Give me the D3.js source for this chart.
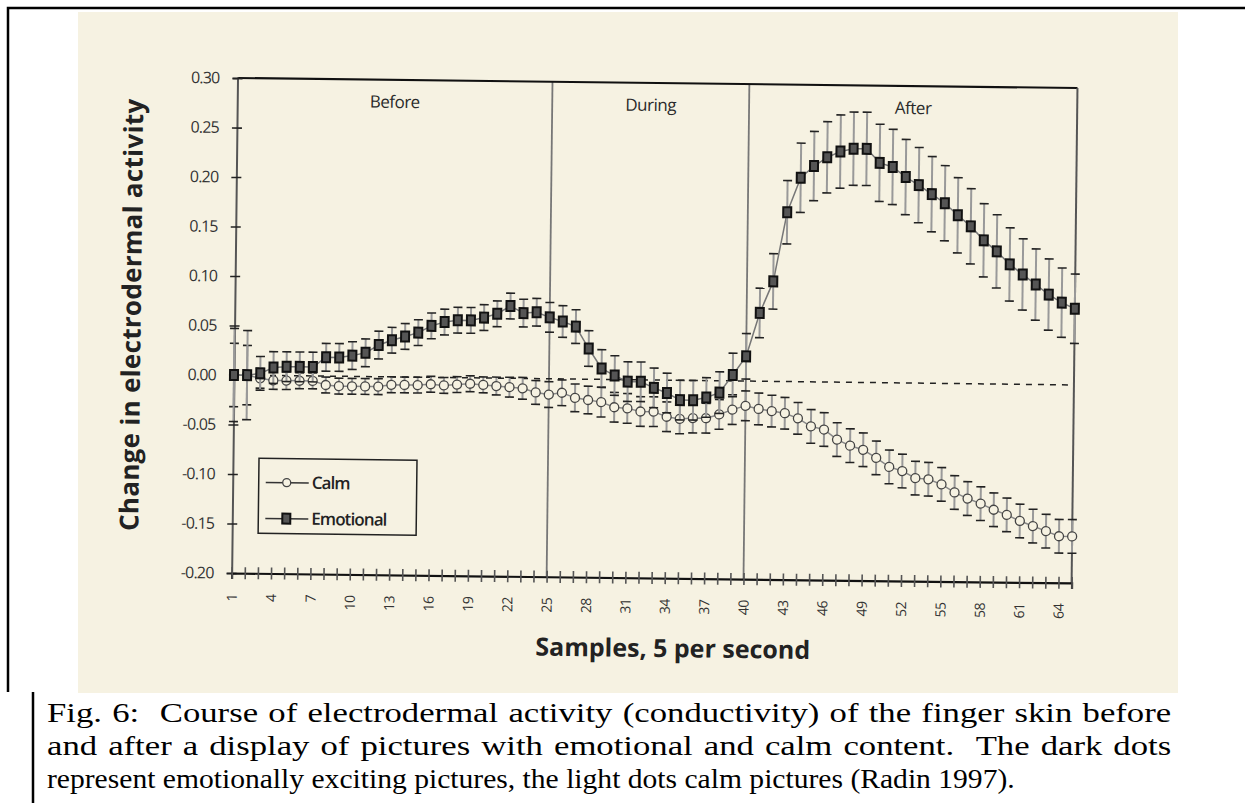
<!DOCTYPE html>
<html>
<head>
<meta charset="utf-8">
<script src="https://cdn.jsdelivr.net/npm/d3@7"></script>
<style>
  body { margin: 0; background: #fff; }
  svg { display: block; }
</style>
</head>
<body>
<div id="chart"></div>
<script>
// sample index (5 per second)
const samples = [1,2,3,4,5,6,7,8,9,10,11,12,13,14,15,16,17,18,19,20,21,22,23,24,25,26,27,28,29,30,
  31,32,33,34,35,36,37,38,39,40,41,42,43,44,45,46,47,48,49,50,51,52,53,54,55,56,57,58,59,60,61,62,63,64,65];
const sampleLabels = [1,4,7,10,13,16,19,22,25,28,31,34,37,40,43,46,49,52,55,58,61,64];
const yTicks = [0.30,0.25,0.20,0.15,0.10,0.05,0.00,-0.05,-0.10,-0.15,-0.20];

const periodNames = ["Before", "During", "After"];
const periodBounds = [1, 25, 40, 65];

const emotional = [0.000,0.000,0.002,0.008,0.009,0.009,0.009,0.019,0.019,0.021,
  0.024,0.032,0.037,0.041,0.045,0.052,0.056,0.058,0.058,0.061,
  0.065,0.073,0.066,0.067,0.062,0.058,0.053,0.031,0.011,0.004,
  -0.002,-0.002,-0.008,-0.013,-0.020,-0.020,-0.017,-0.012,0.006,0.025,
  0.069,0.101,0.171,0.206,0.218,0.227,0.233,0.236,0.236,0.222,
  0.218,0.208,0.200,0.191,0.182,0.170,0.159,0.145,0.134,0.121,
  0.111,0.101,0.091,0.083,0.077];
const emotionalErr = [0.047,0.045,0.017,0.016,0.015,0.015,0.015,0.014,0.014,0.014,
  0.014,0.014,0.013,0.013,0.013,0.013,0.013,0.013,0.013,0.013,
  0.013,0.013,0.014,0.014,0.015,0.016,0.017,0.018,0.019,0.020,
  0.020,0.020,0.020,0.020,0.020,0.020,0.020,0.021,0.022,0.023,
  0.025,0.028,0.032,0.035,0.035,0.036,0.037,0.037,0.037,0.039,
  0.038,0.038,0.038,0.038,0.038,0.038,0.038,0.037,0.037,0.037,
  0.036,0.036,0.036,0.035,0.035];

const calm = [0.000,0.000,-0.003,-0.005,-0.005,-0.005,-0.005,-0.009,-0.010,-0.010,
  -0.010,-0.010,-0.008,-0.008,-0.008,-0.007,-0.008,-0.007,-0.006,-0.007,
  -0.008,-0.009,-0.010,-0.014,-0.016,-0.014,-0.019,-0.021,-0.023,-0.028,
  -0.029,-0.032,-0.032,-0.037,-0.039,-0.038,-0.038,-0.034,-0.029,-0.025,
  -0.028,-0.030,-0.032,-0.037,-0.045,-0.048,-0.058,-0.064,-0.068,-0.076,
  -0.085,-0.089,-0.096,-0.097,-0.102,-0.110,-0.116,-0.121,-0.127,-0.132,
  -0.138,-0.143,-0.148,-0.153,-0.153];
const calmErr = [0.032,0.030,0.010,0.009,0.009,0.008,0.008,0.008,0.008,0.008,
  0.008,0.008,0.008,0.008,0.008,0.008,0.008,0.008,0.008,0.008,
  0.009,0.010,0.011,0.012,0.013,0.013,0.014,0.014,0.015,0.015,
  0.015,0.015,0.015,0.015,0.015,0.015,0.015,0.015,0.015,0.015,
  0.016,0.016,0.016,0.016,0.017,0.017,0.017,0.017,0.017,0.017,
  0.017,0.017,0.017,0.017,0.017,0.017,0.017,0.017,0.017,0.017,
  0.017,0.017,0.017,0.017,0.017];

const captionLines = [
  "Fig. 6:  Course of electrodermal activity (conductivity) of the finger skin before",
  "and after a display of pictures with emotional and calm content.  The dark dots",
  "represent emotionally exciting pictures, the light dots calm pictures (Radin 1997)."
];

const width = 1245, height = 803;
const paper = '#f6f2e2';
const sans = '"Open Sans", "Noto Sans", sans-serif';

const svg = d3.select("#chart").append("svg")
  .attr("width", width).attr("height", height);

// page frame around the scanned figure
svg.append("path")
  .attr("d", "M1245,8H8V692M33,692V803")
  .attr("fill", "none").attr("stroke", "#000").attr("stroke-width", 2.5);

// the scan
svg.append("rect")
  .attr("x", 78).attr("y", 12).attr("width", 1100).attr("height", 681)
  .attr("fill", paper);

// scan is slightly tilted
const g = svg.append("g").attr("transform", "rotate(0.68,234,375)");

const x = d3.scaleLinear().domain([1, 65]).range([234, 1074]);
const y = d3.scaleLinear().domain([-0.2, 0.3]).range([573, 78]);

// period separators
g.selectAll(".sep").data(periodBounds.slice(1, 3)).join("line")
  .attr("x1", d => x(d)).attr("x2", d => x(d))
  .attr("y1", y(0.3)).attr("y2", y(-0.2))
  .attr("stroke", "#777").attr("stroke-width", 1.8);

// top and right frame
g.append("line").attr("x1", x(1)).attr("x2", x(65)).attr("y1", y(0.3)).attr("y2", y(0.3))
  .attr("stroke", "#111").attr("stroke-width", 2.2);
g.append("line").attr("x1", x(65)).attr("x2", x(65)).attr("y1", y(0.3)).attr("y2", y(-0.2))
  .attr("stroke", "#555").attr("stroke-width", 2);

// y axis
const yAxis = g.append("g").attr("transform", `translate(${x(1)},0)`)
  .call(d3.axisLeft(y).tickValues(yTicks).tickSize(5).tickFormat(d => d.toFixed(2)));
yAxis.select(".domain").attr("stroke", "#555").attr("stroke-width", 2);
yAxis.selectAll(".tick line").attr("x1", 5).attr("stroke", "#222").attr("stroke-width", 1.6);
yAxis.selectAll(".tick text").attr("x", -18)
  .attr("font-family", sans).attr("font-size", 16).attr("fill", "#333")
  .attr("letter-spacing", -0.8);

// x axis
const xAxis = g.append("g").attr("transform", `translate(0,${y(-0.2)})`)
  .call(d3.axisBottom(x).tickValues(samples).tickSize(6)
    .tickFormat(d => sampleLabels.includes(d) ? d : ""));
xAxis.select(".domain").attr("stroke", "#111").attr("stroke-width", 2.2);
xAxis.selectAll(".tick line").attr("y1", -6).attr("stroke", "#555").attr("stroke-width", 1.6);
xAxis.selectAll(".tick text")
  .attr("transform", "rotate(-90)")
  .attr("x", -21).attr("y", 0).attr("dy", "0.35em")
  .attr("text-anchor", "end")
  .attr("font-family", sans).attr("font-size", 14).attr("fill", "#333")
  .attr("letter-spacing", -0.5);

// zero reference
g.append("line").attr("x1", x(1)).attr("x2", x(65)).attr("y1", y(0)).attr("y2", y(0))
  .attr("stroke", "#222").attr("stroke-width", 1.5).attr("stroke-dasharray", "6,6");

// period names
g.selectAll(".period").data(periodNames).join("text")
  .attr("x", (d, i) => (x(periodBounds[i]) + x(periodBounds[i + 1])) / 2)
  .attr("y", y(0.3) + 28)
  .attr("text-anchor", "middle")
  .attr("font-family", sans).attr("font-size", 17).attr("fill", "#2a2a2a")
  .attr("letter-spacing", -0.5)
  .text(d => d);

function drawSeries(values, errs, lineColor) {
  const pts = samples.map((s, i) => ({ s, v: values[i], e: errs[i] }));
  const line = d3.line().x(d => x(d.s)).y(d => y(d.v));
  const sg = g.append("g");
  sg.append("path").datum(pts).attr("d", line)
    .attr("fill", "none").attr("stroke", lineColor).attr("stroke-width", 1.5);
  sg.selectAll(".bar").data(pts).join("line")
    .attr("x1", d => x(d.s)).attr("x2", d => x(d.s))
    .attr("y1", d => y(d.v - d.e)).attr("y2", d => y(d.v + d.e))
    .attr("stroke", "#999").attr("stroke-width", 2);
  [-1, 1].forEach(sign => {
    sg.selectAll(".cap" + sign).data(pts).join("line")
      .attr("x1", d => x(d.s) - 4.5).attr("x2", d => x(d.s) + 4.5)
      .attr("y1", d => y(d.v + sign * d.e)).attr("y2", d => y(d.v + sign * d.e))
      .attr("stroke", "#222").attr("stroke-width", 1.6);
  });
  return { sg, pts };
}

const c = drawSeries(calm, calmErr, "#888");
c.sg.selectAll(".dot").data(c.pts).join("circle")
  .attr("cx", d => x(d.s)).attr("cy", d => y(d.v)).attr("r", 4.5)
  .attr("fill", paper).attr("stroke", "#444").attr("stroke-width", 1.3);

const e = drawSeries(emotional, emotionalErr, "#777");
e.sg.selectAll(".sq").data(e.pts).join("rect")
  .attr("x", d => x(d.s) - 4).attr("y", d => y(d.v) - 5)
  .attr("width", 8).attr("height", 10)
  .attr("fill", "#555").attr("stroke", "#111").attr("stroke-width", 2);

// legend
const lg = g.append("g").attr("transform", "translate(260,458)");
lg.append("rect").attr("width", 158).attr("height", 75)
  .attr("fill", paper).attr("stroke", "#222").attr("stroke-width", 1.5);
[["Calm", "circle"], ["Emotional", "square"]].forEach(([name, shape], i) => {
  const cy = 24 + i * 36;
  lg.append("line").attr("x1", 7).attr("x2", 50).attr("y1", cy).attr("y2", cy)
    .attr("stroke", "#333").attr("stroke-width", 1.5);
  if (shape === "circle") {
    lg.append("circle").attr("cx", 28).attr("cy", cy).attr("r", 4)
      .attr("fill", paper).attr("stroke", "#444").attr("stroke-width", 1.3);
  } else {
    lg.append("rect").attr("x", 24).attr("y", cy - 5).attr("width", 8).attr("height", 10)
      .attr("fill", "#555").attr("stroke", "#111").attr("stroke-width", 2);
  }
  lg.append("text").attr("x", 53).attr("y", cy).attr("dy", "0.35em")
    .attr("font-family", sans).attr("font-size", 17).attr("font-weight", 600)
    .attr("fill", "#222").attr("letter-spacing", -0.9).text(name);
});

// axis titles
g.append("text")
  .attr("transform", "translate(140,316) rotate(-90)")
  .attr("text-anchor", "middle")
  .attr("font-family", sans).attr("font-size", 26).attr("font-weight", 700).attr("fill", "#222")
  .attr("letter-spacing", 0.3)
  .text("Change in electrodermal activity");
g.append("text")
  .attr("x", 676).attr("y", 652)
  .attr("text-anchor", "middle")
  .attr("font-family", sans).attr("font-size", 25).attr("font-weight", 700).attr("fill", "#222")
  .text("Samples, 5 per second");

// caption: first two lines justified, last line flush left
const capLeft = 47, capRight = 1172, lastEnd = 1015;
const cap = svg.append("g")
  .attr("font-family", '"Liberation Serif", "Times New Roman", serif')
  .attr("fill", "#000").attr("font-size", 28);
captionLines.forEach((t, i) => {
  const row = cap.append("g");
  const txt = row.append("text").attr("x", 0).attr("y", 0)
    .attr("xml:space", "preserve").text(t);
  const natural = txt.node().getComputedTextLength();
  let sx = 1.24;
  if (i === 2) {
    sx = (lastEnd - capLeft) / natural;
  } else {
    const gaps = (t.match(/ /g) || []).length;
    txt.attr("word-spacing", Math.max(0, ((capRight - capLeft) / sx - natural) / gaps));
  }
  row.attr("transform", `translate(${capLeft},${722 + i * 33}) scale(${sx},1)`);
});
</script>
</body>
</html>
